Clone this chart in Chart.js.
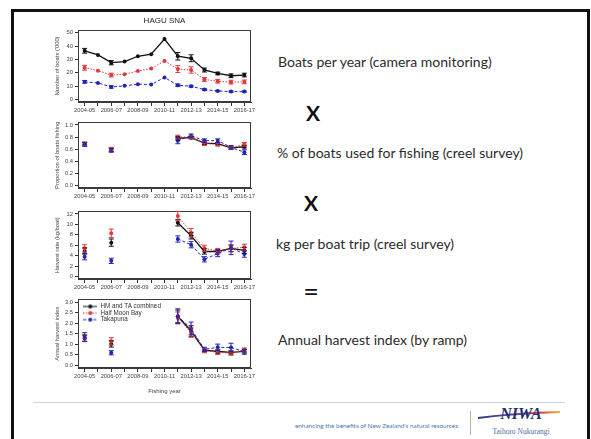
<!DOCTYPE html>
<html><head><meta charset="utf-8">
<script src="https://cdn.jsdelivr.net/npm/chart.js@4/dist/chart.umd.min.js"></script>
<style>
html,body{margin:0;padding:0;background:#fff;width:591px;height:439px;overflow:hidden;position:relative;font-family:Lato,'Open Sans',sans-serif}
.frame{position:absolute;left:11px;top:9px;width:579px;height:445px;border:3px solid #111;box-sizing:border-box}
canvas{position:absolute}
.t{position:absolute;transform:translateY(-50%);white-space:nowrap;color:#2b2b2b;font-size:14px;line-height:1}
.op{position:absolute;transform:translate(-50%,-50%);font-size:21px;font-weight:bold;color:#111;line-height:1}
.rule{position:absolute;left:33px;top:402px;width:532px;height:0;border-top:1.5px solid #c9d6e0}
.tag{position:absolute;right:133px;top:425px;transform:translateY(-50%);font-size:6.4px;color:#4f78a8;white-space:nowrap}
.sep{position:absolute;left:470px;top:411px;width:0;height:24px;border-left:1px solid #b0b0b0}
</style>
</head><body>
<div class="frame"></div>
<canvas id="c1"></canvas><canvas id="c2"></canvas><canvas id="c3"></canvas><canvas id="c4"></canvas>

<div class="t" style="left:278px;top:62px">Boats per year (camera monitoring)</div>
<div class="op" style="left:313px;top:112px">X</div>
<div class="t" style="left:277px;top:153px">% of boats used for fishing (creel survey)</div>
<div class="op" style="left:311px;top:202px">X</div>
<div class="t" style="left:276px;top:244px">kg per boat trip (creel survey)</div>
<div class="op" style="left:311px;top:290px;font-size:27px;font-weight:normal">=</div>
<div class="t" style="left:278px;top:340px">Annual harvest index (by ramp)</div>

<div class="rule"></div>
<div class="tag">enhancing the benefits of New Zealand's natural resources</div>
<div class="sep"></div>
<svg style="position:absolute;left:476px;top:404px" width="86" height="34">
 <defs><linearGradient id="g" x1="0" x2="1"><stop offset="0" stop-color="#27388a"/><stop offset="0.55" stop-color="#6f4aa0"/><stop offset="0.8" stop-color="#e0483a"/><stop offset="1" stop-color="#f0c030"/></linearGradient></defs>
 <path d="M2 14 Q 40 9 84 8" stroke="url(#g)" stroke-width="1.8" fill="none"/>
 <text x="45" y="15" font-family="Liberation Serif" font-style="italic" font-weight="bold" font-size="16" fill="#1f2d6d" text-anchor="middle">NIWA</text>
 <text x="45" y="30" font-family="Liberation Serif" font-size="7.5" fill="#4a6ea8" text-anchor="middle">Taihoro Nukurangi</text>
</svg>

<script>
// ---------- DATA ----------
const chartTitle = 'HAGU SNA';
const fishingYears = ['2004-05','2005-06','2006-07','2007-08','2008-09','2009-10','2010-11','2011-12','2012-13','2013-14','2014-15','2015-16','2016-17'];
const shownYearLabels = ['2004-05','2006-07','2008-09','2010-11','2012-13','2014-15','2016-17'];
const seriesNames = ['HM and TA combined','Half Moon Bay','Takapuna'];
const xAxisTitle = 'Fishing year';

// Panel 1: number of boats ('000)
const boatsTitle = "Number of boats ('000)";
const boatsTicks = [0,10,20,30,40,50];
const boatsCombined = [36.4,33.3,27.5,28.3,32.3,33.8,45.2,32.3,30.8,22.0,19.4,17.7,18.2];
const boatsCombinedErr = [1.8,0,1.6,0,0,0,0,2.8,2.6,1.5,1.0,1.4,1.4];
const boatsHalfMoon = [23.7,21.5,18.2,18.9,21.2,23.2,28.8,22.7,22.0,14.9,13.6,12.9,13.1];
const boatsHalfMoonErr = [1.8,0,1.4,0,0,0,0,2.6,2.4,1.4,1.4,1.4,1.4];
const boatsTakapuna = [13.1,12.3,9.3,10.1,11.4,11.1,16.4,10.6,9.8,7.3,6.3,5.8,5.8];
const boatsTakapunaErr = [1.0,0,0.9,0,0,0,0,0.9,0.7,0.6,0.5,0.5,0.5];

// Panel 2: proportion of boats fishing
const propTitle = 'Proportion of boats fishing';
const propTicks = [0,0.2,0.4,0.6,0.8,1.0];
const propCombined = [0.68,null,0.59,null,null,null,null,0.78,0.79,0.70,0.69,0.62,0.64];
const propCombinedErr = [0.03,0,0.03,0,0,0,0,0.03,0.02,0.02,0.02,0.02,0.02];
const propHalfMoon = [0.69,null,0.60,null,null,null,null,0.80,0.80,0.69,0.68,0.62,0.68];
const propHalfMoonErr = [0.03,0,0.03,0,0,0,0,0.03,0.02,0.03,0.03,0.02,0.03];
const propTakapuna = [0.68,null,0.58,null,null,null,null,0.74,0.82,0.74,0.74,0.63,0.55];
const propTakapunaErr = [0.03,0,0.03,0,0,0,0,0.05,0.03,0.03,0.03,0.03,0.04];

// Panel 3: harvest rate (kg/boat)
const rateTitle = 'Harvest rate (kg/boat)';
const rateTicks = [0,2,4,6,8,10,12];
const rateCombined = [4.9,null,6.5,null,null,null,null,10.3,7.8,4.8,4.8,5.4,5.0];
const rateCombinedErr = [0.6,0,0.7,0,0,0,0,0.6,0.6,0.5,0.4,0.6,0.6];
const rateHalfMoon = [5.4,null,8.3,null,null,null,null,11.6,8.4,5.4,4.9,5.4,5.6];
const rateHalfMoonErr = [0.7,0,0.8,0,0,0,0,0.9,0.8,0.6,0.5,0.7,0.6];
const rateTakapuna = [3.8,null,3.0,null,null,null,null,7.2,6.1,3.3,4.4,5.5,4.3];
const rateTakapunaErr = [0.6,0,0.5,0,0,0,0,0.6,0.6,0.5,0.6,1.3,0.6];

// Panel 4: annual harvest index
const indexTitle = 'Annual harvest index';
const indexTicks = [0,0.5,1.0,1.5,2.0,2.5,3.0];
const indexCombined = [1.28,null,1.02,null,null,null,null,2.32,1.63,0.72,0.66,0.62,0.67];
const indexCombinedErr = [0.15,0,0.15,0,0,0,0,0.3,0.25,0.08,0.08,0.08,0.08];
const indexHalfMoon = [1.30,null,1.14,null,null,null,null,2.25,1.55,0.70,0.62,0.58,0.73];
const indexHalfMoonErr = [0.17,0,0.17,0,0,0,0,0.28,0.22,0.1,0.1,0.1,0.1];
const indexTakapuna = [1.35,null,0.60,null,null,null,null,2.33,1.75,0.76,0.86,0.85,0.65];
const indexTakapunaErr = [0.2,0,0.1,0,0,0,0,0.35,0.3,0.1,0.15,0.2,0.12];

// ---------- STYLE / LAYOUT ----------
const FONT = "'Liberation Sans', Arial, sans-serif";
const seriesStyle = [
  {color:'#111111', dash:[], width:1.3, order:2},
  {color:'#e0393b', dash:[1.5,1.5], width:1, order:1},
  {color:'#2323b8', dash:[3,2], width:1, order:0}
];
const panels = [
  {id:'c1', top:12, padTop:4.4, areaH:72, xH:14, title:true, yTitle:boatsTitle, ticks:boatsTicks, dec:0,
   series:[[boatsCombined,boatsCombinedErr],[boatsHalfMoon,boatsHalfMoonErr],[boatsTakapuna,boatsTakapunaErr]]},
  {id:'c2', top:117, padTop:4, areaH:67, xH:14, yTitle:propTitle, ticks:propTicks, dec:1,
   series:[[propCombined,propCombinedErr],[propHalfMoon,propHalfMoonErr],[propTakapuna,propTakapunaErr]]},
  {id:'c3', top:206, padTop:4, areaH:69, xH:14, yTitle:rateTitle, ticks:rateTicks, dec:0,
   series:[[rateCombined,rateCombinedErr],[rateHalfMoon,rateHalfMoonErr],[rateTakapuna,rateTakapunaErr]]},
  {id:'c4', top:294, padTop:4, areaH:70, xH:28, xTitle:true, legend:true, yTitle:indexTitle, ticks:indexTicks, dec:1,
   series:[[indexCombined,indexCombinedErr],[indexHalfMoon,indexHalfMoonErr],[indexTakapuna,indexTakapunaErr]]}
];
const CANVAS_LEFT = 30, CANVAS_W = 229, Y_W = 48, PAD_R = 8, TITLE_H = 13.6;
const LEGEND_SHIFT = {x:5, y:9};

const boxPlugin = {
  id:'box',
  beforeDatasetsDraw(c){
    const {ctx, chartArea:a} = c;
    ctx.save(); ctx.strokeStyle='#3a3a3a'; ctx.lineWidth=1;
    ctx.strokeRect(Math.round(a.left)+0.5, Math.round(a.top)+0.5, Math.round(a.right-a.left)-1, Math.round(a.bottom-a.top)-1);
    ctx.restore();
  }
};
const legendShift = {
  id:'legendShift',
  afterLayout(c){
    const l = c.legend;
    if(!l || !c.options.plugins.legend.display) return;
    l.left += LEGEND_SHIFT.x; l.right += LEGEND_SHIFT.x;
    l.top += LEGEND_SHIFT.y; l.bottom += LEGEND_SHIFT.y;
  }
};
const errPlugin = {
  id:'err',
  afterDatasetsDraw(c){
    const ctx = c.ctx, ys = c.scales.y;
    c.data.datasets.forEach((ds,i)=>{
      if(!ds.err) return;
      const meta = c.getDatasetMeta(i);
      ctx.save(); ctx.strokeStyle = ds.borderColor; ctx.lineWidth = 1; ctx.setLineDash([]);
      meta.data.forEach((pt,j)=>{
        const v = ds.data[j], e = ds.err[j];
        if(v==null || !e) return;
        const x = pt.x, y1 = ys.getPixelForValue(v-e), y2 = ys.getPixelForValue(v+e);
        ctx.beginPath();
        ctx.moveTo(x,y1); ctx.lineTo(x,y2);
        ctx.moveTo(x-2.5,y1); ctx.lineTo(x+2.5,y1);
        ctx.moveTo(x-2.5,y2); ctx.lineTo(x+2.5,y2);
        ctx.stroke();
      });
      ctx.restore();
    });
  }
};

function legendIcon(st){
  const cv = document.createElement('canvas'); cv.width = 14; cv.height = 6;
  const g = cv.getContext('2d');
  g.strokeStyle = st.color; g.lineWidth = 1; g.setLineDash(st.dash);
  g.beginPath(); g.moveTo(0,3); g.lineTo(14,3); g.stroke();
  g.fillStyle = st.color; g.beginPath(); g.arc(7,3,2,0,Math.PI*2); g.fill();
  return cv;
}

panels.forEach(p=>{
  const cv = document.getElementById(p.id);
  const h = p.padTop + (p.title?TITLE_H:0) + p.areaH + p.xH;
  cv.width = CANVAS_W; cv.height = Math.round(h);
  cv.style.left = CANVAS_LEFT+'px'; cv.style.top = p.top+'px';
  const lo = p.ticks[0], hi = p.ticks[p.ticks.length-1], pad = (hi-lo)*0.04;
  const datasets = p.series.map((s,i)=>({
    label: seriesNames[i], data: s[0], err: s[1],
    borderColor: seriesStyle[i].color, backgroundColor: seriesStyle[i].color,
    borderWidth: seriesStyle[i].width, borderDash: seriesStyle[i].dash,
    pointRadius: 2, pointBorderWidth: 0, pointBackgroundColor: seriesStyle[i].color,
    spanGaps: false, tension: 0, order: seriesStyle[i].order
  }));
  new Chart(cv, {
    type:'line',
    data:{labels: fishingYears, datasets},
    plugins:[boxPlugin, errPlugin, legendShift],
    options:{
      responsive:false, animation:false, devicePixelRatio:1,
      layout:{padding:{top:p.padTop, right:PAD_R, left:0, bottom:0}},
      plugins:{
        title:{display:!!p.title, text:chartTitle, fullSize:false, color:'#222', font:{family:FONT, size:8, weight:'normal'}, padding:{top:0,bottom:4}},
        tooltip:{enabled:false},
        legend:{display:!!p.legend, position:'chartArea', align:'start',
          labels:{usePointStyle:true, pointStyleWidth:14, boxHeight:5, padding:0.3, color:'#333', font:{family:FONT,size:6.3},
            generateLabels: ch => ch.data.datasets.map((ds,i)=>({text:ds.label, pointStyle:legendIcon(seriesStyle[i]),
              fillStyle:ds.borderColor, strokeStyle:ds.borderColor, lineWidth:0, hidden:false, datasetIndex:i, fontColor:'#333'}))}}
      },
      scales:{
        x:{
          offset:true,
          grid:{display:true, drawOnChartArea:false, drawTicks:true, tickLength:4, color:'#333', offset:false},
          border:{display:true, color:'#3a3a3a'},
          ticks:{autoSkip:false, maxRotation:0, padding:1, color:'#444', font:{family:FONT,size:5.8},
            callback:(v,i)=> shownYearLabels.includes(fishingYears[i]) ? fishingYears[i] : ''},
          title:{display:!!p.xTitle, text:xAxisTitle, color:'#444', font:{family:FONT,size:6}, padding:{top:0,bottom:1.4}},
          afterFit:s=>{ s.height = p.xH; }
        },
        y:{
          min: lo-pad, max: hi+pad,
          afterBuildTicks: s=>{ s.ticks = p.ticks.map(v=>({value:v})); },
          grid:{display:true, drawOnChartArea:false, drawTicks:true, tickLength:3, color:'#333'},
          border:{display:true, color:'#3a3a3a'},
          ticks:{padding:2, color:'#444', font:{family:FONT,size:5.8}, callback:v=> Number(v).toFixed(p.dec)},
          title:{display:true, text:p.yTitle, color:'#444', font:{family:FONT,size:5.8}, padding:{top:24,bottom:0}},
          afterFit:s=>{ s.width = Y_W; }
        }
      }
    }
  });
});
</script>
</body></html>
